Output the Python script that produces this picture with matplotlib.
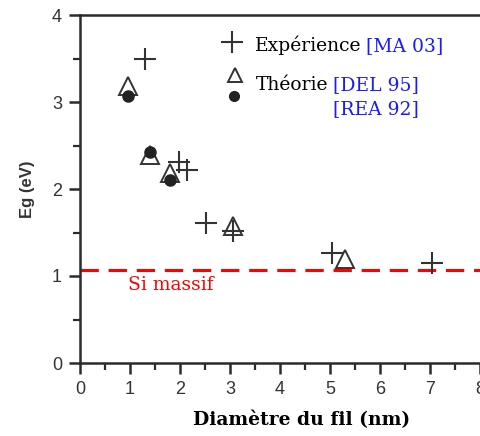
import matplotlib
matplotlib.use("Agg")
import matplotlib.pyplot as plt
from matplotlib.ticker import MultipleLocator

# --- Data ---------------------------------------------------------------------

# Experimental band gaps [MA 03]
exp_diam = [1.3, 1.98, 2.14, 2.52, 3.05, 5.04, 7.03]
exp_eg = [3.50, 2.31, 2.22, 1.61, 1.52, 1.26, 1.15]

# Theory [DEL 95] (triangles)
del_diam = [0.96, 1.40, 1.80, 3.05, 5.30]
del_eg = [3.18, 2.39, 2.18, 1.57, 1.19]

# Theory [REA 92] (filled circles)
rea_diam = [0.96, 1.40, 1.80]
rea_eg = [3.07, 2.43, 2.10]

# Bulk silicon gap
eg_bulk = 1.07

x_ticks = [0, 1, 2, 3, 4, 5, 6, 7, 8]
y_ticks = [0, 1, 2, 3, 4]

#-------------------------------------------------------------------------------

serif = ["DejaVu Serif"]
sans = ["Liberation Sans", "DejaVu Sans"]
axis_col = "#2b2b2b"
mark_col = "#333333"
blue = "#1a1aff"

fig = plt.figure(figsize=(4.8, 4.36), dpi=100)
ax = fig.add_axes([80/480, 1 - 363/436, 400/480, 348/436])

ax.plot(exp_diam, exp_eg, ls="none", marker="+", ms=16, mew=1.5, color=mark_col, zorder=4)
ax.plot(del_diam, del_eg, ls="none", marker="^", ms=13, mew=1.4, mfc="white", mec=mark_col, zorder=3)
ax.plot(rea_diam, rea_eg, ls="none", marker="o", ms=8, color="#222222", zorder=5)

ax.axhline(eg_bulk, color="red", lw=2.2, dashes=(6, 3.2), zorder=2)
ax.text(0.96, 0.9, "Si massif", color="red", fontsize=13.5, family=serif, va="center", ha="left")

# Legend built by hand: markers + black / blue text
ax.plot([3.04], [3.69], ls="none", marker="+", ms=16, mew=1.5, color=mark_col, clip_on=False)
ax.plot([3.1], [3.31], ls="none", marker="^", ms=10, mew=1.4, mfc="white", mec=mark_col)
ax.plot([3.08], [3.07], ls="none", marker="o", ms=7, color="#222222")

fs_leg = 13.5
t1 = ax.text(3.5, 3.655, "Expérience", fontsize=fs_leg, family=serif, va="center", ha="left")
ax.annotate("[MA 03]", xy=(1, 0), xycoords=t1, xytext=(3, 0), textcoords="offset points",
            fontsize=fs_leg, family=serif, color=blue, va="bottom", ha="left")
t2 = ax.text(3.52, 3.195, "Théorie", fontsize=fs_leg, family=serif, va="center", ha="left")
t3 = ax.annotate("[DEL 95]", xy=(1, 0), xycoords=t2, xytext=(3, 0), textcoords="offset points",
                 fontsize=fs_leg, family=serif, color=blue, va="bottom", ha="left")
ax.annotate("[REA 92]", xy=(0, 0), xycoords=t3, xytext=(0, -17), textcoords="offset points",
            fontsize=fs_leg, family=serif, color=blue, va="bottom", ha="left")

# Axes styling
ax.set_xlim(0, 8)
ax.set_ylim(0, 4)
ax.set_xticks(x_ticks)
ax.set_yticks(y_ticks)
ax.xaxis.set_minor_locator(MultipleLocator(0.5))
ax.yaxis.set_minor_locator(MultipleLocator(0.5))
ax.tick_params(which="major", direction="out", length=8, width=1.8, color=axis_col,
               labelsize=13, labelcolor="#333333", pad=5)
ax.tick_params(which="minor", direction="out", length=5, width=1.6, color=axis_col)
for lab in ax.get_xticklabels() + ax.get_yticklabels():
  lab.set_family(sans)
ax.spines["right"].set_visible(False)
for s in ["left", "bottom", "top"]:
  ax.spines[s].set_linewidth(1.8)
  ax.spines[s].set_color(axis_col)

ax.set_ylabel("Eg (eV)", fontsize=12, fontweight="bold", family=sans, color="#333333", labelpad=12)
fig.text(302/480, 1 - 420/436, "Diamètre du fil (nm)", fontsize=13.5, fontweight="bold",
         family=serif, ha="center", va="center")

fig.savefig("out.png", dpi=100)
